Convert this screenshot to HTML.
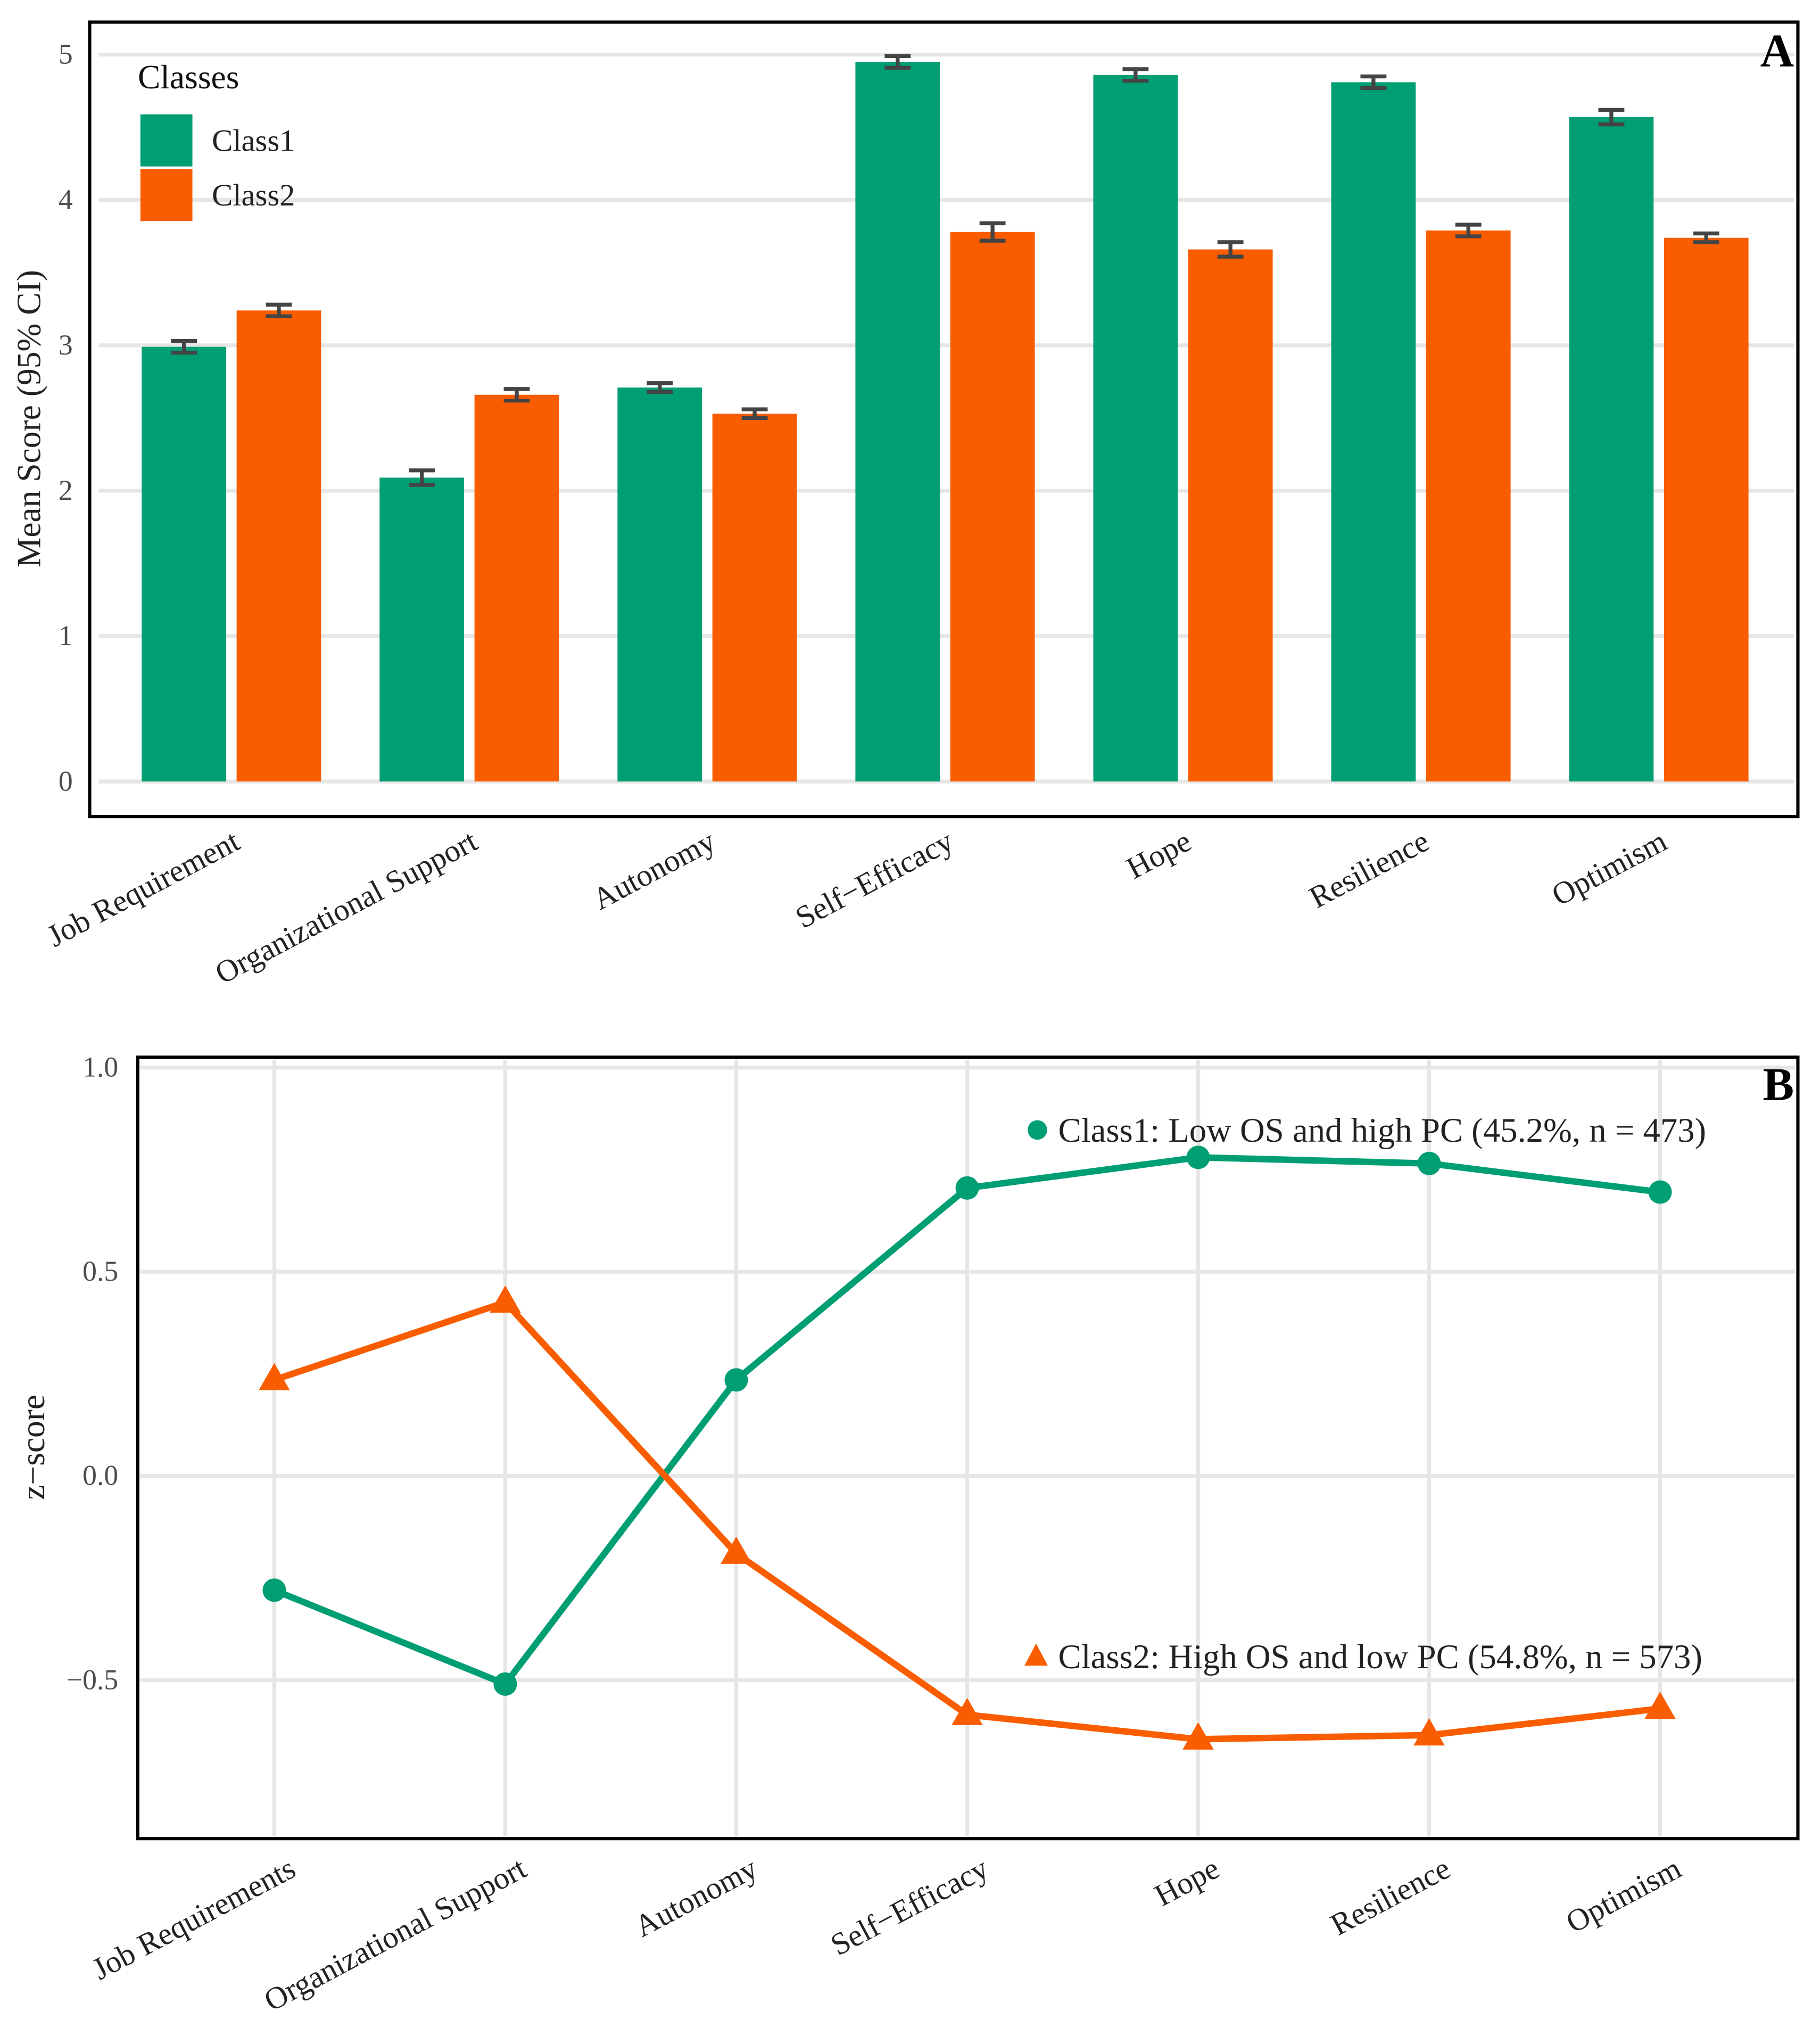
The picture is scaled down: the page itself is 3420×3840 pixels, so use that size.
<!DOCTYPE html>
<html><head><meta charset="utf-8"><style>
html,body{margin:0;padding:0;background:#fff}
svg{display:block}
text{font-family:"Liberation Serif",serif}
</style></head><body>
<svg id="fig" width="3420" height="3840" viewBox="0 0 1400 1571.93" xmlns="http://www.w3.org/2000/svg">
<g id="pa"></g>
<g id="pb"></g>
</svg>
<script>
const catsA = ["Job Requirement","Organizational Support","Autonomy","Self\u2212Efficacy","Hope","Resilience","Optimism"];
const class1Mean = [2.99,2.09,2.71,4.95,4.86,4.81,4.57];
const class2Mean = [3.24,2.66,2.53,3.78,3.66,3.79,3.74];
const class1Err = [0.04,0.05,0.03,0.04,0.04,0.04,0.05];
const class2Err = [0.04,0.04,0.03,0.06,0.05,0.04,0.03];
const ticksA = [0,1,2,3,4,5];
const catsB = ["Job Requirements","Organizational Support","Autonomy","Self\u2212Efficacy","Hope","Resilience","Optimism"];
const class1Z = [-0.28,-0.51,0.235,0.705,0.78,0.765,0.695];
const class2Z = [0.235,0.425,-0.19,-0.585,-0.645,-0.635,-0.57];
const ticksB = [1.0,0.5,0.0,-0.5];
const tickLabB = ["1.0","0.5","0.0","\u22120.5"];

const NS="http://www.w3.org/2000/svg";
const G="#009E73", O="#F95D00";
function mk(parent,tag,attrs,text){const e=document.createElementNS(NS,tag);for(const k in attrs)e.setAttribute(k,attrs[k]);if(text!==undefined)e.textContent=text;parent.appendChild(e);return e;}

// ---------- Panel A ----------
const pa=document.getElementById('pa');
const yA=v=>601-v*111.8;
const xA=i=>178+i*183;
ticksA.forEach(t=>{
  const l=mk(pa,'line',{x1:76,x2:1380,y1:yA(t),y2:yA(t),stroke:"#e6e6e6","stroke-width":3});
  
  
  const tx=mk(pa,'text',{x:56,y:yA(t)+7,"text-anchor":"end","font-size":22,fill:"#4d4d4d"},String(t));
  
  
});
const bw=65;
catsA.forEach((c,i)=>{
  [[class1Mean,class1Err,G],[class2Mean,class2Err,O]].forEach(([m,e,col],s)=>{
    const bx = s? xA(i)+4 : xA(i)-69;
    const r=mk(pa,'rect',{x:bx,y:yA(m[i]),width:bw,height:yA(0)-yA(m[i]),fill:col});
    
    
    const cx=bx+bw/2, y1=yA(m[i]+e[i]), y2=yA(m[i]-e[i]);
    const eb=mk(pa,'path',{d:`M${cx-10},${y1}H${cx+10}M${cx},${y1}V${y2}M${cx-10},${y2}H${cx+10}`,stroke:"#444","stroke-width":3,fill:"none"});
    
    
  });
  const t=mk(pa,'text',{x:0,y:0,"text-anchor":"end","font-size":24,fill:"#222",transform:`translate(${xA(i)+8},${652}) rotate(-28)`},c);
  
  
});
const fa=mk(pa,'rect',{x:69,y:17,width:1314,height:611,fill:"none",stroke:"#000","stroke-width":2.5});


let t;
t=mk(pa,'text',{x:0,y:0,"text-anchor":"middle","font-size":26,fill:"#222",transform:"translate(31,322) rotate(-90)"},"Mean Score (95% CI)");


t=mk(pa,'text',{x:1380,y:51,"text-anchor":"end","font-size":36,"font-weight":"bold",fill:"#000"},"A");


t=mk(pa,'text',{x:106,y:68,"font-size":26,fill:"#111"},"Classes");


t=mk(pa,'rect',{x:108,y:88,width:40,height:40,fill:G});


t=mk(pa,'rect',{x:108,y:130,width:40,height:40,fill:O});


t=mk(pa,'text',{x:163,y:116,"font-size":24,fill:"#222"},"Class1");


t=mk(pa,'text',{x:163,y:158,"font-size":24,fill:"#222"},"Class2");



// ---------- Panel B ----------
const pb=document.getElementById('pb');
const yB=v=>1135-v*314;
const xB=i=>211+i*177.67;
ticksB.forEach((v,k)=>{
  const l=mk(pb,'line',{x1:108,x2:1381,y1:yB(v),y2:yB(v),stroke:"#e6e6e6","stroke-width":3});
  
  
  const tx=mk(pb,'text',{x:91,y:yB(v)+7,"text-anchor":"end","font-size":22,fill:"#4d4d4d"},tickLabB[k]);
  
  
});
catsB.forEach((c,i)=>{
  const l=mk(pb,'line',{x1:xB(i),x2:xB(i),y1:815,y2:1412,stroke:"#e6e6e6","stroke-width":3});
  
  
  const tx=mk(pb,'text',{x:0,y:0,"text-anchor":"end","font-size":24,fill:"#222",transform:`translate(${xB(i)+18},${1442}) rotate(-28)`},c);
  
  
});
const l1=mk(pb,'polyline',{points:class1Z.map((v,i)=>xB(i)+","+yB(v)).join(" "),fill:"none",stroke:G,"stroke-width":5,"stroke-linejoin":"round"});


const l2=mk(pb,'polyline',{points:class2Z.map((v,i)=>xB(i)+","+yB(v)).join(" "),fill:"none",stroke:O,"stroke-width":5,"stroke-linejoin":"round"});


class1Z.forEach((v,i)=>{
  const p=mk(pb,'circle',{cx:xB(i),cy:yB(v),r:9,fill:G});
  
  
});
class2Z.forEach((v,i)=>{
  const x=xB(i),y=yB(v);
  const p=mk(pb,'polygon',{points:`${x},${y-13} ${x+12},${y+8} ${x-12},${y+8}`,fill:O});
  
  
});
const fb=mk(pb,'rect',{x:106,y:813,width:1277,height:601,fill:"none",stroke:"#000","stroke-width":2.5});


t=mk(pb,'text',{x:0,y:0,"text-anchor":"middle","font-size":26,fill:"#222",transform:"translate(34,1113) rotate(-90)"},"z\u2212score");


t=mk(pb,'text',{x:1380,y:846,"text-anchor":"end","font-size":36,"font-weight":"bold",fill:"#000"},"B");


t=mk(pb,'circle',{cx:798,cy:869,r:7.5,fill:G});


t=mk(pb,'text',{x:814,y:878,"font-size":26.5,fill:"#222"},"Class1: Low OS and high PC (45.2%, n = 473)");


t=mk(pb,'polygon',{points:"797,1264 806,1281 788,1281",fill:O});


t=mk(pb,'text',{x:814,y:1283,"font-size":26.5,fill:"#222"},"Class2: High OS and low PC (54.8%, n = 573)");


</script>
</body></html>
